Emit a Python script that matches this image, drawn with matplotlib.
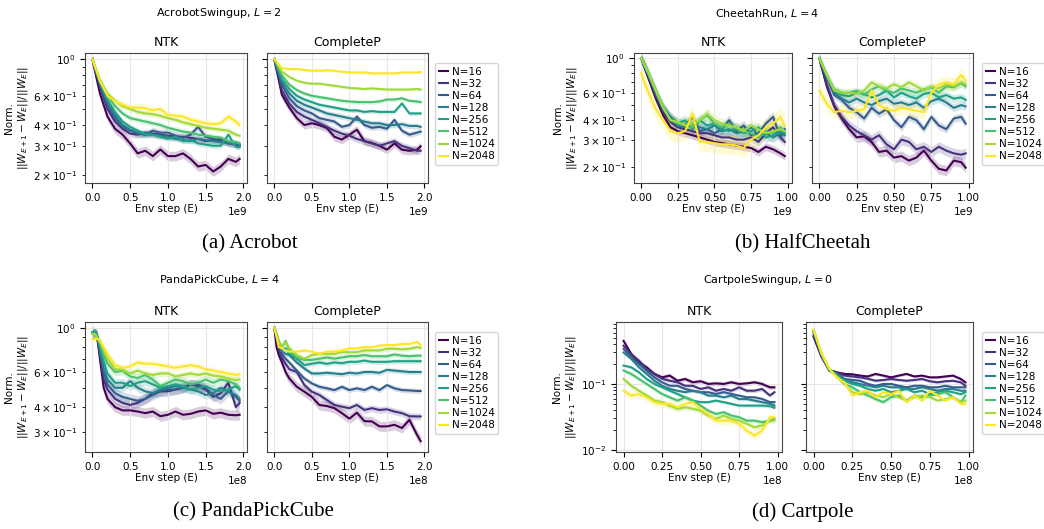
import numpy as np
import matplotlib
matplotlib.use('Agg')
import matplotlib.pyplot as plt

W, H = 1044, 529

widths = [16, 32, 64, 128, 256, 512, 1024, 2048]
colors = plt.cm.viridis(np.linspace(0, 1, len(widths)))

# ---- AcrobotSwingup (steps in 1e9) ----
acro_steps = [0, 0.1, 0.2, 0.3, 0.4, 0.5, 0.6, 0.7, 0.8, 0.9, 1.0, 1.1, 1.2, 1.3, 1.4, 1.5, 1.6, 1.7, 1.8, 1.9, 1.95]
acro_ntk = [
    [1.0, 0.62, 0.45, 0.38, 0.35, 0.31, 0.27, 0.28, 0.26, 0.285, 0.26, 0.26, 0.27, 0.25, 0.225, 0.23, 0.21, 0.225, 0.25, 0.24, 0.25],
    [1.0, 0.68, 0.50, 0.42, 0.38, 0.355, 0.35, 0.36, 0.355, 0.35, 0.345, 0.34, 0.34, 0.335, 0.33, 0.32, 0.325, 0.33, 0.31, 0.305, 0.30],
    [1.0, 0.70, 0.53, 0.44, 0.39, 0.37, 0.355, 0.35, 0.37, 0.36, 0.36, 0.345, 0.335, 0.35, 0.39, 0.34, 0.33, 0.32, 0.315, 0.31, 0.305],
    [1.0, 0.71, 0.55, 0.46, 0.40, 0.375, 0.36, 0.35, 0.35, 0.345, 0.34, 0.33, 0.325, 0.32, 0.33, 0.325, 0.32, 0.315, 0.31, 0.31, 0.305],
    [1.0, 0.72, 0.57, 0.48, 0.42, 0.39, 0.37, 0.355, 0.35, 0.34, 0.33, 0.34, 0.32, 0.325, 0.31, 0.305, 0.30, 0.30, 0.35, 0.295, 0.295],
    [1.0, 0.74, 0.60, 0.52, 0.47, 0.44, 0.43, 0.42, 0.41, 0.40, 0.385, 0.375, 0.365, 0.36, 0.35, 0.345, 0.34, 0.335, 0.32, 0.315, 0.31],
    [1.0, 0.75, 0.62, 0.56, 0.52, 0.50, 0.48, 0.47, 0.465, 0.455, 0.44, 0.43, 0.415, 0.405, 0.395, 0.385, 0.38, 0.375, 0.37, 0.35, 0.345],
    [1.0, 0.74, 0.60, 0.555, 0.53, 0.51, 0.51, 0.505, 0.49, 0.50, 0.46, 0.455, 0.45, 0.43, 0.42, 0.41, 0.405, 0.41, 0.45, 0.42, 0.40],
]
acro_cp = [
    [1.0, 0.61, 0.51, 0.44, 0.40, 0.41, 0.40, 0.384, 0.34, 0.327, 0.35, 0.375, 0.32, 0.312, 0.30, 0.284, 0.31, 0.284, 0.28, 0.284, 0.298],
    [1.0, 0.65, 0.54, 0.48, 0.45, 0.43, 0.41, 0.39, 0.37, 0.355, 0.345, 0.33, 0.32, 0.31, 0.30, 0.31, 0.32, 0.30, 0.29, 0.28, 0.28],
    [1.0, 0.70, 0.58, 0.52, 0.49, 0.47, 0.44, 0.43, 0.42, 0.39, 0.40, 0.45, 0.40, 0.385, 0.39, 0.38, 0.43, 0.37, 0.35, 0.36, 0.365],
    [1.0, 0.73, 0.62, 0.56, 0.53, 0.51, 0.49, 0.47, 0.46, 0.45, 0.44, 0.43, 0.42, 0.41, 0.41, 0.40, 0.40, 0.405, 0.395, 0.395, 0.39],
    [1.0, 0.76, 0.66, 0.60, 0.57, 0.55, 0.53, 0.52, 0.51, 0.50, 0.49, 0.49, 0.48, 0.485, 0.48, 0.48, 0.48, 0.54, 0.47, 0.47, 0.47],
    [1.0, 0.80, 0.70, 0.65, 0.62, 0.60, 0.59, 0.58, 0.57, 0.56, 0.555, 0.55, 0.55, 0.55, 0.555, 0.57, 0.57, 0.58, 0.56, 0.555, 0.55],
    [1.0, 0.84, 0.78, 0.74, 0.72, 0.71, 0.71, 0.70, 0.69, 0.68, 0.67, 0.665, 0.66, 0.665, 0.66, 0.655, 0.655, 0.655, 0.655, 0.66, 0.655],
    [1.0, 0.88, 0.87, 0.87, 0.86, 0.85, 0.85, 0.855, 0.85, 0.84, 0.83, 0.83, 0.83, 0.82, 0.82, 0.82, 0.82, 0.83, 0.83, 0.83, 0.835],
]
acro_ntk_sd = [0.07, 0.05, 0.05, 0.04, 0.04, 0.04, 0.04, 0.05]
acro_cp_sd = [0.06, 0.05, 0.04, 0.04, 0.03, 0.03, 0.02, 0.02]

# ---- CheetahRun (steps in 1e9) ----
cheetah_steps = [0, 0.05, 0.1, 0.15, 0.2, 0.25, 0.3, 0.35, 0.4, 0.45, 0.5, 0.55, 0.6, 0.65, 0.7, 0.75, 0.8, 0.85, 0.9, 0.95, 0.98]
cheetah_ntk = [
    [1.0, 0.74, 0.55, 0.43, 0.36, 0.34, 0.33, 0.32, 0.31, 0.30, 0.29, 0.285, 0.28, 0.275, 0.27, 0.265, 0.25, 0.27, 0.26, 0.245, 0.235],
    [1.0, 0.76, 0.57, 0.45, 0.39, 0.36, 0.35, 0.34, 0.33, 0.33, 0.32, 0.31, 0.31, 0.30, 0.30, 0.31, 0.29, 0.33, 0.36, 0.31, 0.29],
    [1.0, 0.78, 0.60, 0.48, 0.42, 0.38, 0.37, 0.42, 0.34, 0.35, 0.33, 0.35, 0.40, 0.34, 0.37, 0.32, 0.33, 0.38, 0.42, 0.31, 0.35],
    [1.0, 0.78, 0.60, 0.47, 0.41, 0.37, 0.36, 0.38, 0.36, 0.35, 0.37, 0.34, 0.35, 0.33, 0.34, 0.36, 0.32, 0.33, 0.31, 0.33, 0.32],
    [1.0, 0.79, 0.61, 0.48, 0.41, 0.38, 0.40, 0.35, 0.40, 0.37, 0.38, 0.35, 0.34, 0.36, 0.33, 0.34, 0.36, 0.31, 0.32, 0.34, 0.33],
    [1.0, 0.79, 0.61, 0.48, 0.40, 0.38, 0.37, 0.36, 0.40, 0.43, 0.38, 0.36, 0.38, 0.35, 0.34, 0.33, 0.31, 0.34, 0.33, 0.36, 0.34],
    [1.0, 0.80, 0.62, 0.48, 0.40, 0.39, 0.37, 0.38, 0.40, 0.44, 0.40, 0.38, 0.37, 0.36, 0.34, 0.37, 0.35, 0.33, 0.34, 0.35, 0.34],
    [0.80, 0.60, 0.47, 0.40, 0.34, 0.33, 0.34, 0.44, 0.29, 0.29, 0.285, 0.28, 0.28, 0.275, 0.265, 0.30, 0.32, 0.36, 0.38, 0.42, 0.37],
]
cheetah_cp = [
    [1.0, 0.66, 0.49, 0.41, 0.35, 0.31, 0.315, 0.29, 0.25, 0.255, 0.23, 0.235, 0.22, 0.23, 0.255, 0.22, 0.195, 0.19, 0.22, 0.215, 0.198],
    [1.0, 0.68, 0.50, 0.42, 0.37, 0.34, 0.32, 0.30, 0.32, 0.28, 0.26, 0.30, 0.29, 0.26, 0.27, 0.25, 0.27, 0.255, 0.245, 0.24, 0.245],
    [1.0, 0.75, 0.58, 0.54, 0.48, 0.45, 0.41, 0.48, 0.44, 0.47, 0.40, 0.36, 0.42, 0.40, 0.35, 0.42, 0.37, 0.35, 0.41, 0.42, 0.38],
    [1.0, 0.76, 0.60, 0.55, 0.52, 0.55, 0.52, 0.50, 0.53, 0.55, 0.51, 0.52, 0.50, 0.52, 0.48, 0.53, 0.55, 0.52, 0.48, 0.50, 0.49],
    [1.0, 0.77, 0.62, 0.58, 0.57, 0.60, 0.59, 0.56, 0.58, 0.62, 0.56, 0.60, 0.57, 0.55, 0.59, 0.60, 0.56, 0.58, 0.55, 0.56, 0.54],
    [1.0, 0.78, 0.63, 0.60, 0.60, 0.62, 0.58, 0.63, 0.66, 0.62, 0.60, 0.64, 0.62, 0.60, 0.63, 0.65, 0.60, 0.66, 0.65, 0.69, 0.66],
    [1.0, 0.78, 0.62, 0.60, 0.60, 0.59, 0.62, 0.70, 0.66, 0.64, 0.68, 0.65, 0.70, 0.66, 0.62, 0.66, 0.64, 0.68, 0.66, 0.70, 0.68],
    [0.62, 0.51, 0.45, 0.46, 0.45, 0.46, 0.47, 0.62, 0.50, 0.47, 0.46, 0.48, 0.47, 0.46, 0.45, 0.60, 0.68, 0.70, 0.68, 0.78, 0.72],
]
cheetah_ntk_sd = [0.06, 0.07, 0.08, 0.08, 0.08, 0.08, 0.08, 0.15]
cheetah_cp_sd = [0.08, 0.08, 0.06, 0.06, 0.06, 0.06, 0.06, 0.10]

# ---- PandaPickCube (steps in 1e8) ----
panda_steps = [0, 0.03, 0.06, 0.1, 0.15, 0.2, 0.3, 0.4, 0.5, 0.6, 0.7, 0.8, 0.9, 1.0, 1.1, 1.2, 1.3, 1.4, 1.5, 1.6, 1.7, 1.8, 1.9, 1.95]
panda_ntk = [
    [0.95, 0.95, 0.92, 0.70, 0.50, 0.44, 0.40, 0.385, 0.385, 0.38, 0.373, 0.38, 0.36, 0.366, 0.38, 0.366, 0.37, 0.38, 0.385, 0.37, 0.375, 0.366, 0.364, 0.366],
    [0.95, 0.95, 0.92, 0.74, 0.55, 0.49, 0.44, 0.42, 0.41, 0.42, 0.44, 0.47, 0.48, 0.48, 0.49, 0.50, 0.52, 0.51, 0.49, 0.45, 0.47, 0.53, 0.40, 0.42],
    [0.95, 0.95, 0.92, 0.76, 0.60, 0.52, 0.47, 0.45, 0.44, 0.43, 0.44, 0.46, 0.48, 0.49, 0.49, 0.50, 0.52, 0.52, 0.50, 0.46, 0.44, 0.48, 0.45, 0.43],
    [0.95, 0.95, 0.92, 0.78, 0.63, 0.55, 0.50, 0.50, 0.54, 0.50, 0.48, 0.47, 0.49, 0.50, 0.51, 0.50, 0.49, 0.48, 0.46, 0.47, 0.50, 0.48, 0.46, 0.44],
    [0.95, 0.95, 0.92, 0.80, 0.68, 0.59, 0.53, 0.53, 0.51, 0.53, 0.54, 0.52, 0.50, 0.51, 0.52, 0.51, 0.49, 0.50, 0.51, 0.49, 0.48, 0.49, 0.51, 0.49],
    [0.94, 0.94, 0.91, 0.84, 0.73, 0.66, 0.60, 0.61, 0.57, 0.56, 0.58, 0.55, 0.51, 0.53, 0.55, 0.54, 0.52, 0.53, 0.55, 0.53, 0.55, 0.54, 0.52, 0.50],
    [0.93, 0.93, 0.90, 0.86, 0.77, 0.70, 0.62, 0.615, 0.59, 0.61, 0.59, 0.58, 0.59, 0.59, 0.57, 0.58, 0.59, 0.58, 0.59, 0.575, 0.57, 0.557, 0.547, 0.55],
    [0.88, 0.88, 0.88, 0.86, 0.80, 0.74, 0.65, 0.63, 0.64, 0.67, 0.66, 0.66, 0.65, 0.64, 0.63, 0.64, 0.65, 0.64, 0.62, 0.61, 0.60, 0.59, 0.58, 0.585],
]
panda_cp = [
    [1.0, 0.80, 0.73, 0.674, 0.60, 0.557, 0.506, 0.478, 0.45, 0.41, 0.405, 0.395, 0.373, 0.35, 0.375, 0.34, 0.339, 0.32, 0.32, 0.326, 0.314, 0.345, 0.291, 0.27],
    [1.0, 0.88, 0.78, 0.71, 0.66, 0.62, 0.60, 0.516, 0.478, 0.46, 0.434, 0.41, 0.402, 0.395, 0.41, 0.387, 0.395, 0.387, 0.39, 0.38, 0.373, 0.36, 0.359, 0.359],
    [1.0, 0.90, 0.82, 0.74, 0.70, 0.67, 0.61, 0.557, 0.526, 0.506, 0.497, 0.487, 0.506, 0.487, 0.497, 0.487, 0.506, 0.487, 0.516, 0.497, 0.487, 0.485, 0.482, 0.482],
    [1.0, 0.92, 0.84, 0.76, 0.74, 0.73, 0.67, 0.625, 0.59, 0.59, 0.595, 0.59, 0.585, 0.595, 0.59, 0.60, 0.60, 0.595, 0.615, 0.61, 0.605, 0.60, 0.60, 0.60],
    [1.0, 0.93, 0.85, 0.77, 0.79, 0.74, 0.70, 0.65, 0.66, 0.67, 0.66, 0.67, 0.665, 0.675, 0.675, 0.685, 0.675, 0.675, 0.675, 0.68, 0.68, 0.68, 0.68, 0.68],
    [1.0, 0.93, 0.86, 0.80, 0.86, 0.77, 0.71, 0.69, 0.69, 0.70, 0.71, 0.70, 0.71, 0.72, 0.72, 0.73, 0.72, 0.72, 0.72, 0.735, 0.725, 0.72, 0.725, 0.725],
    [1.0, 0.92, 0.85, 0.80, 0.85, 0.79, 0.73, 0.70, 0.73, 0.74, 0.74, 0.74, 0.755, 0.755, 0.755, 0.77, 0.77, 0.77, 0.785, 0.785, 0.78, 0.785, 0.80, 0.795],
    [1.0, 0.90, 0.80, 0.79, 0.77, 0.76, 0.76, 0.77, 0.76, 0.74, 0.76, 0.76, 0.77, 0.79, 0.79, 0.80, 0.80, 0.815, 0.82, 0.82, 0.83, 0.83, 0.85, 0.82],
]
panda_ntk_sd = [0.06, 0.06, 0.06, 0.05, 0.05, 0.05, 0.04, 0.04]
panda_cp_sd = [0.06, 0.04, 0.03, 0.03, 0.03, 0.03, 0.03, 0.02]

# ---- CartpoleSwingup (steps in 1e8) ----
cart_steps = [0, 0.05, 0.1, 0.15, 0.2, 0.25, 0.3, 0.35, 0.4, 0.45, 0.5, 0.55, 0.6, 0.65, 0.7, 0.75, 0.8, 0.85, 0.9, 0.95, 0.98]
cart_ntk = [
    [0.45, 0.285, 0.213, 0.179, 0.142, 0.126, 0.134, 0.112, 0.119, 0.106, 0.11, 0.10, 0.102, 0.10, 0.106, 0.10, 0.102, 0.106, 0.10, 0.089, 0.089],
    [0.38, 0.28, 0.226, 0.17, 0.142, 0.12, 0.112, 0.106, 0.094, 0.094, 0.084, 0.089, 0.079, 0.084, 0.079, 0.089, 0.079, 0.079, 0.084, 0.067, 0.075],
    [0.34, 0.254, 0.201, 0.159, 0.126, 0.106, 0.094, 0.094, 0.084, 0.079, 0.075, 0.075, 0.0705, 0.075, 0.0705, 0.0666, 0.0628, 0.0628, 0.0593, 0.053, 0.053],
    [0.30, 0.24, 0.179, 0.142, 0.112, 0.094, 0.084, 0.079, 0.075, 0.079, 0.075, 0.0666, 0.0666, 0.0628, 0.0666, 0.059, 0.059, 0.056, 0.053, 0.05, 0.047],
    [0.19, 0.179, 0.15, 0.119, 0.10, 0.089, 0.079, 0.0705, 0.0628, 0.056, 0.053, 0.053, 0.056, 0.053, 0.05, 0.047, 0.047, 0.047, 0.047, 0.046, 0.0435],
    [0.16, 0.142, 0.119, 0.10, 0.084, 0.0705, 0.0628, 0.056, 0.0628, 0.056, 0.047, 0.0394, 0.0351, 0.0373, 0.0332, 0.0313, 0.0278, 0.0278, 0.0263, 0.0278, 0.0295],
    [0.119, 0.094, 0.079, 0.067, 0.056, 0.053, 0.047, 0.042, 0.0443, 0.042, 0.0394, 0.0332, 0.0295, 0.0332, 0.0295, 0.0278, 0.0248, 0.0221, 0.0234, 0.0278, 0.0278],
    [0.079, 0.0666, 0.0705, 0.0628, 0.053, 0.0498, 0.0498, 0.0443, 0.0498, 0.053, 0.0418, 0.0351, 0.0278, 0.0278, 0.0278, 0.0248, 0.0196, 0.0165, 0.0196, 0.0313, 0.0313],
]
cart_cp = [
    [0.52, 0.26, 0.163, 0.15, 0.142, 0.14, 0.134, 0.13, 0.142, 0.134, 0.126, 0.134, 0.142, 0.13, 0.134, 0.126, 0.126, 0.13, 0.134, 0.119, 0.106],
    [0.55, 0.27, 0.16, 0.15, 0.134, 0.13, 0.126, 0.12, 0.112, 0.115, 0.119, 0.115, 0.112, 0.115, 0.119, 0.11, 0.106, 0.11, 0.112, 0.106, 0.094],
    [0.60, 0.28, 0.16, 0.145, 0.119, 0.115, 0.112, 0.10, 0.094, 0.10, 0.10, 0.094, 0.089, 0.094, 0.094, 0.089, 0.089, 0.094, 0.089, 0.089, 0.089],
    [0.62, 0.28, 0.165, 0.14, 0.119, 0.106, 0.10, 0.094, 0.089, 0.094, 0.089, 0.089, 0.084, 0.084, 0.089, 0.084, 0.079, 0.084, 0.084, 0.079, 0.079],
    [0.64, 0.29, 0.165, 0.135, 0.112, 0.10, 0.094, 0.084, 0.079, 0.084, 0.075, 0.079, 0.084, 0.075, 0.079, 0.07, 0.075, 0.079, 0.075, 0.07, 0.075],
    [0.66, 0.29, 0.17, 0.13, 0.10, 0.089, 0.075, 0.067, 0.059, 0.053, 0.063, 0.067, 0.056, 0.067, 0.063, 0.0666, 0.070, 0.075, 0.063, 0.053, 0.0666],
    [0.66, 0.29, 0.17, 0.13, 0.10, 0.075, 0.070, 0.075, 0.067, 0.063, 0.070, 0.063, 0.056, 0.063, 0.067, 0.063, 0.056, 0.059, 0.063, 0.053, 0.056],
    [0.66, 0.30, 0.17, 0.125, 0.106, 0.067, 0.075, 0.079, 0.063, 0.075, 0.070, 0.079, 0.053, 0.067, 0.056, 0.079, 0.067, 0.056, 0.063, 0.05, 0.05],
]
cart_ntk_sd = [0.08, 0.07, 0.06, 0.06, 0.06, 0.08, 0.10, 0.15]
cart_cp_sd = [0.05, 0.05, 0.05, 0.05, 0.05, 0.08, 0.06, 0.06]

# title, caption, steps, scale, ntk, cp, ntk sd, cp sd, ylim,
# pixel boxes for ntk/cp axes, legend corner, title centre, caption centre
envs = [
    ("AcrobotSwingup, $L=2$", "(a) Acrobot", acro_steps, 1e9, acro_ntk, acro_cp,
     acro_ntk_sd, acro_cp_sd, (0.179, 1.087),
     (85, 53, 247, 183), (267, 53, 428, 183), (435, 63), (219, 13), (250, 244)),
    ("CheetahRun, $L=4$", "(b) HalfCheetah", cheetah_steps, 1e9, cheetah_ntk, cheetah_cp,
     cheetah_ntk_sd, cheetah_cp_sd, (0.158, 1.08),
     (634, 53, 792, 183), (812, 53, 973, 183), (982, 63), (767, 13), (803, 244)),
    ("PandaPickCube, $L=4$", "(c) PandaPickCube", panda_steps, 1e8, panda_ntk, panda_cp,
     panda_ntk_sd, panda_cp_sd, (0.238, 1.07),
     (85, 322, 247, 452), (267, 322, 428, 452), (435, 332), (219, 280), (253, 512)),
    ("CartpoleSwingup, $L=0$", "(d) Cartpole", cart_steps, 1e8, cart_ntk, cart_cp,
     cart_ntk_sd, cart_cp_sd, (0.0093, 0.87),
     (616, 322, 782, 452), (806, 322, 973, 452), (982, 332), (768, 280), (803, 512)),
]

fig = plt.figure(figsize=(W / 100, H / 100), dpi=100)


def px_axes(box, **kw):
    x0, y0, x1, y1 = box
    return fig.add_axes([x0 / W, 1 - y1 / H, (x1 - x0) / W, (y1 - y0) / H], **kw)


def draw_runs(ax, steps, runs, sds):
    x = np.array(steps) * scale
    for vals, sd, c, n in zip(runs, sds, colors, widths):
        v = np.array(vals)
        ax.fill_between(x, v / (1 + sd), v * (1 + sd), color=c, alpha=0.2, lw=0)
        ax.plot(x, v, color=c, lw=1.5, label=f"N={n}")


for (title, caption, steps, scale, ntk, cp, ntk_sd, cp_sd, ylim,
     box_ntk, box_cp, leg_xy, title_xy, cap_xy) in envs:
    ax1 = px_axes(box_ntk)
    ax2 = px_axes(box_cp, sharey=ax1)
    for ax, runs, sds, name in [(ax1, ntk, ntk_sd, "NTK"), (ax2, cp, cp_sd, "CompleteP")]:
        ax.set_yscale('log')
        draw_runs(ax, steps, runs, sds)
        ax.set_title(name, fontsize=9, pad=5)
        ax.set_xlabel("Env step (E)", fontsize=7.5, labelpad=1)
        ax.grid(True, which='major', color='#e6e6e6', lw=0.8)
        ax.tick_params(which='both', labelsize=7.5)
        ax.xaxis.get_offset_text().set_fontsize(7.5)
        for s in ax.spines.values():
            s.set_color('#444444')
    ax1.set_ylim(*ylim)
    ax2.tick_params(which='both', labelleft=False)
    ax1.set_ylabel("Norm.\n$||W_{E+1} - W_E||/||W_E||$", fontsize=7.5, labelpad=2)

    ax2.legend(loc='upper left', bbox_to_anchor=(leg_xy[0] / W, 1 - leg_xy[1] / H),
               bbox_transform=fig.transFigure, fontsize=7.5, labelspacing=0.2,
               handlelength=0.9, handletextpad=0.35, borderpad=0.35, borderaxespad=0)

    fig.text(title_xy[0] / W, 1 - title_xy[1] / H, title, ha='center', va='center', fontsize=8)
    fig.text(cap_xy[0] / W, 1 - cap_xy[1] / H, caption, ha='center', va='center',
             fontsize=15, family='Liberation Serif')

fig.savefig("out.png", dpi=100)
